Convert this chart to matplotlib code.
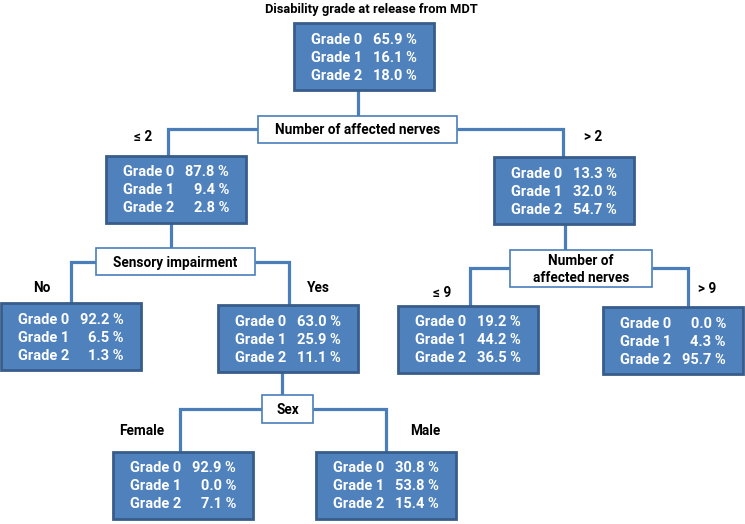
import matplotlib
matplotlib.use("Agg")
import matplotlib.pyplot as plt
from matplotlib.patches import Rectangle

plt.rcParams['font.family'] = ['Roboto', 'DejaVu Sans']

# data
title = "Disability grade at release from MDT"
grades = ["Grade 0", "Grade 1", "Grade 2"]
root_pct = [65.9, 16.1, 18.0]
nerves_le2_pct = [87.8, 9.4, 2.8]
nerves_gt2_pct = [13.3, 32.0, 54.7]
sensory_no_pct = [92.2, 6.5, 1.3]
sensory_yes_pct = [63.0, 25.9, 11.1]
nerves_le9_pct = [19.2, 44.2, 36.5]
nerves_gt9_pct = [0.0, 4.3, 95.7]
female_pct = [92.9, 0.0, 7.1]
male_pct = [30.8, 53.8, 15.4]

split_labels = ["Number of affected nerves", "Sensory impairment",
                "Number of\naffected nerves", "Sex"]
branch_labels = ["≤ 2", "> 2", "No", "Yes", "≤ 9", "> 9", "Female", "Male"]

# colours
fill = "#4F81BD"
edge = "#385D8A"
line_col = "#4A7EBB"

# layout (pixel coordinates, origin top-left)
BW, BH = 140, 67
nodes = [
    ((294, 23), root_pct),
    ((106, 156), nerves_le2_pct),
    ((494, 157), nerves_gt2_pct),
    ((1, 303), sensory_no_pct),
    ((218, 305), sensory_yes_pct),
    ((398, 306), nerves_le9_pct),
    ((603, 307), nerves_gt9_pct),
    ((113, 452), female_pct),
    ((316, 452), male_pct),
]
split_boxes = [(258, 116, 457, 143), (96, 248, 255, 275),
               (510, 250, 652, 287), (262, 395, 313, 423)]
connectors = [
    [(358, 89), (358, 116)],
    [(258, 129), (168, 129), (168, 156)],
    [(457, 129), (563, 129), (563, 157)],
    [(171, 223), (171, 248)],
    [(96, 262), (71, 262), (71, 303)],
    [(255, 262), (289, 262), (289, 305)],
    [(565, 224), (565, 250)],
    [(510, 268), (470, 268), (470, 306)],
    [(652, 268), (688, 268), (688, 307)],
    [(282, 372), (282, 395)],
    [(262, 409), (180, 409), (180, 452)],
    [(313, 409), (386, 409), (386, 452)],
]
branch_pos = [(143, 137), (593, 137), (42, 288), (318, 288),
              (442, 293), (707, 289), (142, 431), (425, 431)]

fig = plt.figure(figsize=(7.45, 5.24), dpi=100)
ax = fig.add_axes([0, 0, 1, 1])
ax.set_xlim(0, 745)
ax.set_ylim(524, 0)
ax.axis("off")

for pts in connectors:
    xs, ys = zip(*pts)
    ax.plot(xs, ys, color=line_col, lw=2.3, solid_capstyle="butt",
            solid_joinstyle="miter", zorder=1)

for (x0, y0, x1, y1), lab in zip(split_boxes, split_labels):
    ax.add_patch(Rectangle((x0, y0), x1 - x0, y1 - y0, facecolor="white",
                           edgecolor=line_col, lw=1.2, zorder=2))
    ax.text((x0 + x1) / 2, (y0 + y1) / 2 + 1, lab, ha="center", va="center",
            fontsize=9.8, fontweight="bold", linespacing=1.25, zorder=3)

for (x0, y0), pct in nodes:
    ax.add_patch(Rectangle((x0, y0), BW, BH, facecolor=fill,
                           edgecolor=edge, lw=2, zorder=2))
    cy = y0 + BH / 2
    for i, (g, p) in enumerate(zip(grades, pct)):
        y = cy + (i - 1) * 18 + 1
        ax.text(x0 + 17, y, g, ha="left", va="center", color="white",
                fontsize=10.5, fontweight="bold", zorder=3)
        ax.text(x0 + BW - 17, y, f"{p:.1f} %", ha="right", va="center",
                color="white", fontsize=10.5, fontweight="bold", zorder=3)

for (x, y), lab in zip(branch_pos, branch_labels):
    ax.text(x, y, lab, ha="center", va="center", fontsize=9.8,
            fontweight="bold")

ax.text(371, 9, title, ha="center", va="center", fontsize=9.3,
        fontweight="bold")

fig.savefig("out.png", dpi=100)
plt.close(fig)
